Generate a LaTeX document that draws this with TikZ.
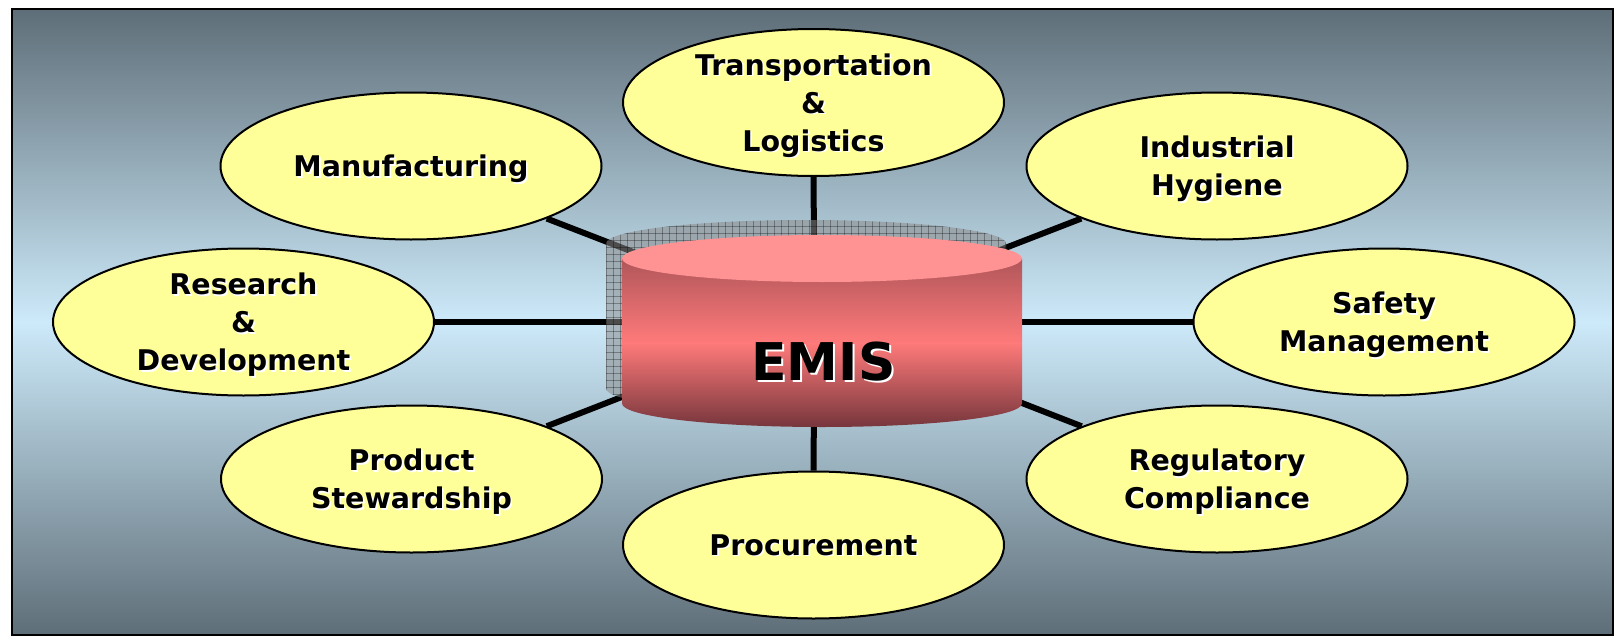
\documentclass[tikz,border=0pt]{standalone}
\usepackage{fontspec}
\setmainfont{DejaVu Sans}
\usetikzlibrary{shapes.geometric}
\pgfdeclarelayer{bg}
\pgfdeclarelayer{edges}
\pgfsetlayers{bg,edges,main}
\definecolor{bgdark}{RGB}{94,110,120}
\definecolor{bglight}{RGB}{205,234,250}
\definecolor{bubblefill}{RGB}{255,255,153}
\definecolor{cyltop}{RGB}{255,146,146}
\definecolor{cylhi}{RGB}{255,122,122}
\definecolor{cyldarktop}{RGB}{176,86,90}
\definecolor{cyldarkbot}{RGB}{118,54,60}
\newcommand\mkbubble[3]{%
  \node[bubble] (#1) at (#2) {};
  \node[lbl, text=white] (#1-s) at ([shift={(1.6,1.6)}]#1.center) {#3};
  \node[lbl] (#1-t) at (#1.center) {#3};
}
\begin{document}
\begin{tikzpicture}[x=1pt,y=-1pt,
  bubble/.style={ellipse, draw=black, line width=2pt, fill=bubblefill,
    minimum width=381pt, minimum height=147pt, inner sep=0pt},
  lbl/.style={align=center, font=\fontsize{28.5}{38}\selectfont\bfseries,
    text depth=0pt, inner sep=0pt},
  spoke/.style={line width=6pt, draw=black},
  bigtext/.style={font=\fontsize{52}{60}\selectfont\bfseries, anchor=base, inner sep=0pt}]
\useasboundingbox (0,0) rectangle (1617,637);
\begin{pgfonlayer}{bg}
  \fill[white] (0,0) rectangle (1617,637);
  \shade[top color=bgdark, bottom color=bgdark, middle color=bglight] (12,9) rectangle (1613,635);
  \draw[line width=2pt] (12,9) rectangle (1613,635);
\end{pgfonlayer}

\coordinate (hub) at (814,322);

\mkbubble{trans}{813.5,102.5}{Transportation\\\&\\Logistics}
\mkbubble{manu}{411,166}{Manufacturing}
\mkbubble{hyg}{1217,166}{Industrial\\Hygiene}
\mkbubble{rnd}{243.5,322}{Research\\\&\\Development}
\mkbubble{safe}{1384,322}{Safety\\Management}
\mkbubble{prod}{411.5,479}{Product\\Stewardship}
\mkbubble{reg}{1217,479}{Regulatory\\Compliance}
\mkbubble{proc}{813.5,545}{Procurement}

\begin{pgfonlayer}{edges}
  \foreach \n in {trans,manu,hyg,rnd,safe,prod,reg,proc}
    \draw[spoke] (\n) -- (hub);
\end{pgfonlayer}

% shadow of the cylinder
\fill[black!45, opacity=0.55]
  (606,243.5) arc[start angle=180, end angle=360, x radius=200, y radius=23.5]
  -- (1006,388.5) arc[start angle=0, end angle=180, x radius=200, y radius=23.5] -- cycle;
\begin{scope}
  \clip (606,243.5) arc[start angle=180, end angle=360, x radius=200, y radius=23.5]
  -- (1006,388.5) arc[start angle=0, end angle=180, x radius=200, y radius=23.5] -- cycle;
  \foreach \gx in {606,613,...,1010} \draw[black, opacity=0.3, line width=0.9pt] (\gx,214) -- (\gx,420);
  \foreach \gy in {219,226,...,420} \draw[black, opacity=0.3, line width=0.9pt] (600,\gy) -- (1012,\gy);
\end{scope}

% cylinder body
\shade[top color=cyldarktop, bottom color=cyldarkbot, middle color=cylhi]
  (622,258.5) -- (622,403.5) arc[start angle=180, end angle=0, x radius=200, y radius=23.5]
  -- (1022,258.5) -- cycle;
\fill[cyltop] (822,258.5) ellipse[x radius=200, y radius=23.5];

\node[bigtext, text=white] (emis-s) at (825.5,382.5) {EMIS};
\node[bigtext] (emis) at (823.5,380) {EMIS};
\end{tikzpicture}
\end{document}
